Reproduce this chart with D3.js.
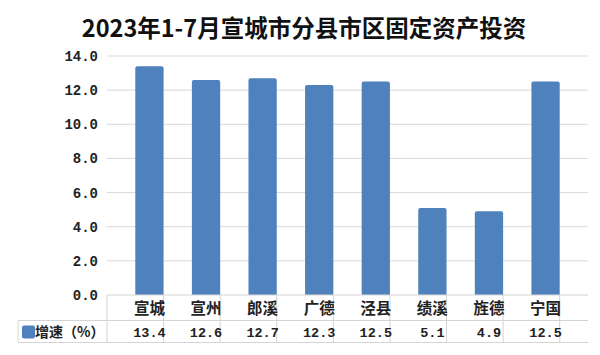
<!DOCTYPE html>
<html>
<head>
<meta charset="utf-8">
<script src="https://cdn.jsdelivr.net/npm/d3@7"></script>
<style>
  body { margin: 0; background: #fff; }
  text { font-family: "Liberation Serif", "Noto Sans CJK SC", serif; }
</style>
</head>
<body>
<div id="chart"></div>
<script>
const categories = ["宣城", "宣州", "郎溪", "广德", "泾县", "绩溪", "旌德", "宁国"];
const growth = [13.4, 12.6, 12.7, 12.3, 12.5, 5.1, 4.9, 12.5];
const tickValues = [0, 2, 4, 6, 8, 10, 12, 14];
const seriesName = "增速（%）";
const title = "2023年1-7月宣城市分县市区固定资产投资";

const width = 600, height = 355;
const margin = { top: 56, right: 12, bottom: 60, left: 107 };
const innerWidth = width - margin.left - margin.right;
const innerHeight = height - margin.top - margin.bottom;

const svg = d3.select("#chart").append("svg")
  .attr("width", width)
  .attr("height", height);

// title
svg.append("text")
  .attr("x", 304)
  .attr("y", 37)
  .attr("text-anchor", "middle")
  .attr("font-size", 23.5)
  .attr("font-weight", "bold")
  .attr("fill", "#111")
  .style("font-family", "'Noto Sans CJK SC', sans-serif")
  .text(title);

const g = svg.append("g")
  .attr("transform", `translate(${margin.left},${margin.top})`);

const x = d3.scaleBand()
  .domain(categories)
  .range([0, innerWidth])
  .padding(0.5);

const y = d3.scaleLinear()
  .domain([0, 14])
  .range([innerHeight, 0]);

// gridlines
g.append("g")
  .selectAll("line")
  .data(tickValues.slice(1))
  .enter().append("line")
  .attr("x1", 0)
  .attr("x2", innerWidth)
  .attr("y1", d => y(d))
  .attr("y2", d => y(d))
  .attr("stroke", "#d9d9d9");

// y axis labels
const yAxis = g.append("g")
  .call(d3.axisLeft(y).tickValues(tickValues).tickFormat(d3.format(".1f")).tickSize(0).tickPadding(9));
yAxis.select(".domain").remove();
yAxis.selectAll("text")
  .attr("font-size", 14)
  .attr("font-weight", "bold")
  .attr("fill", "#222")
  .style("font-family", "'Liberation Mono', monospace");

// bars with slightly rounded tops
const r = 2;
g.selectAll("path.bar")
  .data(growth)
  .enter().append("path")
  .attr("class", "bar")
  .attr("fill", "#4f81bd")
  .attr("d", (d, i) => {
    const x0 = x(categories[i]), w = x.bandwidth();
    const y0 = y(d), yb = y(0);
    return `M${x0},${yb}V${y0 + r}Q${x0},${y0} ${x0 + r},${y0}H${x0 + w - r}Q${x0 + w},${y0} ${x0 + w},${y0 + r}V${yb}Z`;
  });

// data table
const rowTop = innerHeight;
const rowMid = innerHeight + 25.5;
const rowBot = innerHeight + 47.5;
const tableLeft = 18 - margin.left;
const table = g.append("g").attr("stroke", "#d4d4d4").attr("fill", "none");

table.append("line").attr("x1", 0).attr("x2", innerWidth).attr("y1", rowTop).attr("y2", rowTop);
table.append("line").attr("x1", tableLeft).attr("x2", innerWidth).attr("y1", rowMid).attr("y2", rowMid);
table.append("line").attr("x1", tableLeft).attr("x2", innerWidth).attr("y1", rowBot).attr("y2", rowBot);
table.append("line").attr("x1", tableLeft).attr("x2", tableLeft).attr("y1", rowMid).attr("y2", rowBot);

const step = x.step();
table.selectAll("line.v")
  .data(d3.range(categories.length + 1))
  .enter().append("line")
  .attr("class", "v")
  .attr("x1", i => i * step)
  .attr("x2", i => i * step)
  .attr("y1", rowTop)
  .attr("y2", rowBot);

g.selectAll("text.cat")
  .data(categories)
  .enter().append("text")
  .attr("class", "cat")
  .attr("x", d => x(d) + x.bandwidth() / 2)
  .attr("y", rowTop + 19)
  .attr("text-anchor", "middle")
  .attr("font-size", 15.5)
  .attr("font-weight", "bold")
  .attr("fill", "#222")
  .style("font-family", "'Noto Sans CJK SC', sans-serif")
  .text(d => d);

g.selectAll("text.val")
  .data(growth)
  .enter().append("text")
  .attr("class", "val")
  .attr("x", (d, i) => x(categories[i]) + x.bandwidth() / 2)
  .attr("y", rowMid + 16)
  .attr("text-anchor", "middle")
  .attr("font-size", 13.5)
  .attr("font-weight", "bold")
  .attr("fill", "#222")
  .style("font-family", "'Liberation Mono', monospace")
  .text(d => d3.format(".1f")(d));

// legend key + series name
g.append("rect")
  .attr("x", 22 - margin.left)
  .attr("y", rowMid + 5)
  .attr("width", 13)
  .attr("height", 13)
  .attr("rx", 2)
  .attr("fill", "#4f81bd");

g.append("text")
  .attr("x", 35 - margin.left)
  .attr("y", rowMid + 16)
  .attr("font-size", 14)
  .attr("font-weight", "bold")
  .attr("fill", "#222")
  .style("font-family", "'Noto Sans CJK SC', sans-serif")
  .text(seriesName);
</script>
</body>
</html>
